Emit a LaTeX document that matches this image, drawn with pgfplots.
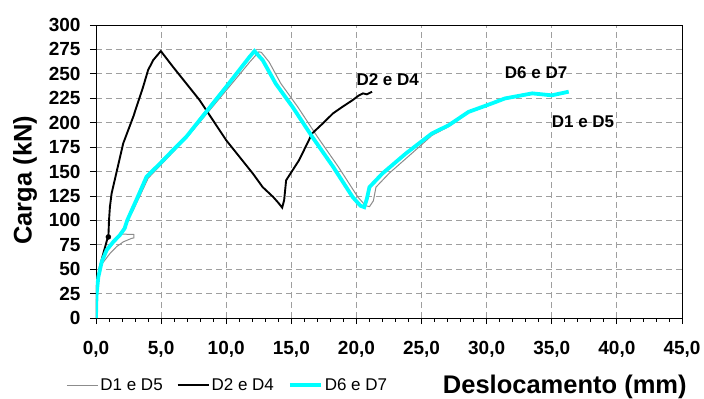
\documentclass[border=0pt]{standalone}
\usepackage{pgfplots}
\pgfplotsset{compat=1.18}
\usepackage{fontspec}
\setmainfont{Liberation Sans}
\definecolor{cyanline}{RGB}{0,255,255}
\definecolor{grayline}{RGB}{140,140,140}
\begin{document}
\begin{tikzpicture}
\useasboundingbox (-96bp,-81bp) rectangle (608bp,318bp);
\begin{axis}[
  scale only axis,
  width=586bp, height=293bp,
  xmin=0, xmax=45, ymin=0, ymax=300,
  xtick={0,5,...,45},
  xticklabels={{0,0},{5,0},{10,0},{15,0},{20,0},{25,0},{30,0},{35,0},{40,0},{45,0}},
  minor x tick num=4,
  ytick={0,25,...,300},
  xtick pos=bottom, ytick pos=left,
  tick align=outside,
  major tick length=6bp, minor tick length=3.5bp,
  tick style={black, line width=0.8bp},
  grid=major,
  major grid style={gray!75, line width=0.8bp, dash pattern=on 6bp off 4bp},
  axis line style={black, line width=0.9bp},
  /pgf/number format/assume math mode=true,
  ticklabel style={font=\fontsize{19bp}{22bp}\selectfont\bfseries},
  xticklabel style={yshift=-14bp},
  yticklabel style={xshift=-6bp},
  xlabel={Deslocamento (mm)},
  ylabel={Carga (kN)},
  xlabel style={font=\fontsize{25.5bp}{29bp}\selectfont\bfseries, at={(axis description cs:0.80,-0.234)}, anchor=center},
  ylabel style={font=\fontsize{25.5bp}{29bp}\selectfont\bfseries, at={(axis description cs:-0.121,0.47)}, anchor=center},
  legend style={draw=none, fill=none, at={(axis description cs:-0.056,-0.229)}, anchor=west,
    font=\fontsize{17bp}{20bp}\selectfont, /tikz/every even column/.append style={column sep=12bp}},
  legend columns=3,
  legend image code/.code={\draw[#1] (0bp,0bp) -- (31bp,0bp);},
]
\addplot[grayline, line width=1bp] coordinates {
(0,0) (0.05,25) (0.2,40) (0.44,55) (1.07,66) (1.58,73) (2.1,78) (2.73,81.5) (2.9,82) (2.9,85.5) (1.8,86)
(2.2,92) (2.45,100) (2.85,110) (3.2,120) (4.0,143) (5.0,157) (6.0,171) (7.0,185) (8.0,201) (9.0,217)
(10.0,233) (11.0,249) (11.8,262) (12.5,272.5) (12.7,272) (13.3,262) (14.2,240) (15.5,216) (17.0,185.6)
(18.6,155) (20.1,124) (20.7,115) (21.0,114) (21.3,120) (21.5,134) (22.5,148) (24.8,175) (25.8,187)
(27.1,196) (28.6,210) (30.4,219) (31.4,224) (33.5,229.5) (35.0,228) (36.3,231)
};
\addlegendentry{D1 e D5}
\addplot[black, line width=1.9bp] coordinates {
(0,0) (0.05,32) (0.3,52.5) (0.56,66) (0.85,80) (0.95,83) (1.0,100) (1.07,114) (1.2,127.6) (2.09,178.8)
(2.86,206) (3.62,236.7) (4.0,253.8) (4.39,264) (4.98,273.3) (5.92,257) (7.96,223) (10.0,182) (12.04,148)
(12.8,134) (13.6,124) (14.0,118) (14.3,113) (14.45,120.8) (14.6,141) (15.6,161.7) (16.6,189) (17.4,199)
(18.2,209.5) (18.9,216) (19.7,223) (20.2,228) (20.5,230) (20.8,229) (21.2,231.7)
};
\addlegendentry{D2 e D4}
\addplot[cyanline, line width=3.8bp] coordinates {
(0,0) (0.02,15) (0.05,25) (0.18,42) (0.44,57.6) (0.82,69.6) (1.33,78) (1.84,85) (2.2,91.8) (2.4,100)
(2.75,110.5) (3.1,120.8) (3.88,144.6) (4.9,158) (5.92,172) (6.94,185.6) (7.96,202.7) (8.98,219.7)
(10.0,236.7) (11.0,253.8) (11.8,267.5) (12.17,273.3) (12.8,264) (13.8,240) (15.1,216) (16.6,185.6)
(18.2,155) (19.7,124) (20.3,115) (20.6,113.5) (20.8,122) (21.0,134) (22.0,148) (23.8,168.5) (25.8,189)
(27.1,197.5) (28.6,211) (30.4,219.7) (31.4,224.8) (33.5,230) (35.0,228) (36.3,231.7)
};
\addlegendentry{D6 e D7}
\addplot[black, only marks, mark=*, mark size=2.5bp, forget plot] coordinates {(0.95,83)};
\node[font=\fontsize{17bp}{20bp}\selectfont\bfseries] at (axis cs:22.4,243.6) {D2 e D4};
\node[font=\fontsize{17bp}{20bp}\selectfont\bfseries] at (axis cs:33.8,250.8) {D6 e D7};
\node[font=\fontsize{17bp}{20bp}\selectfont\bfseries] at (axis cs:37.4,200.6) {D1 e D5};
\end{axis}
\end{tikzpicture}
\end{document}
